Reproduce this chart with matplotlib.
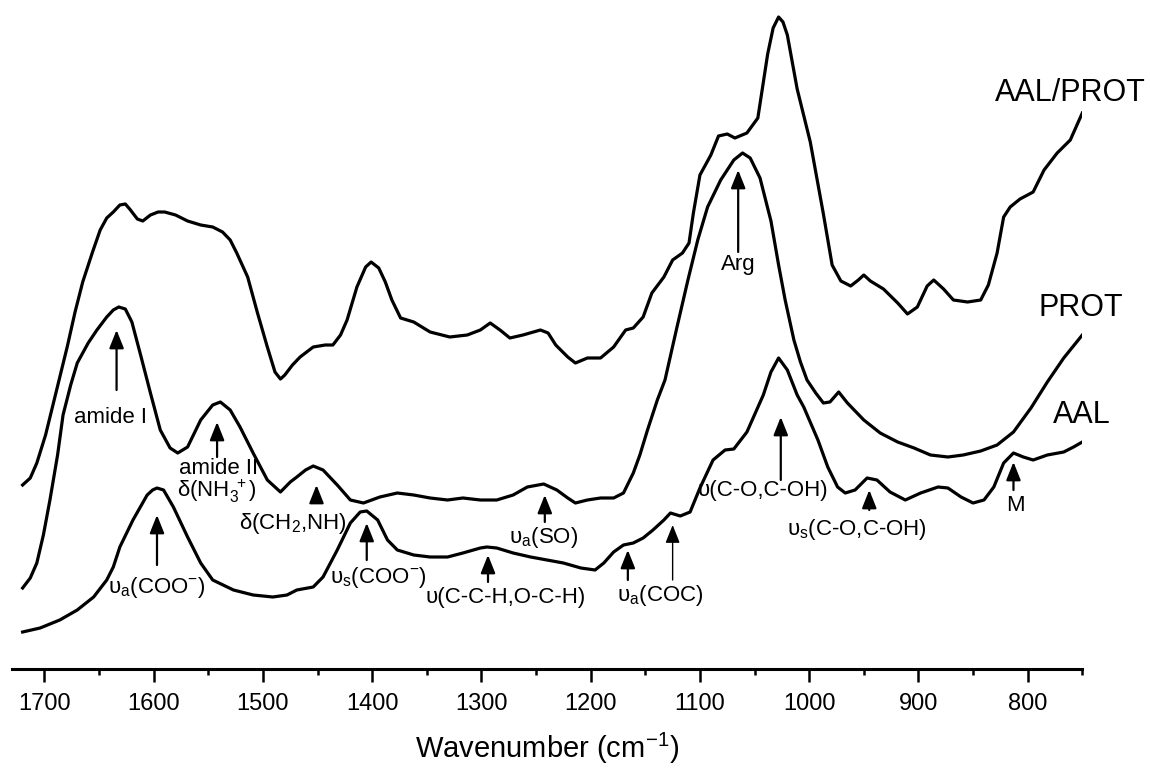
import matplotlib
matplotlib.use("Agg")
import matplotlib.pyplot as plt

plt.rcParams['font.family'] = ['Liberation Sans', 'DejaVu Sans']
plt.rcParams['mathtext.fontset'] = 'custom'
plt.rcParams['mathtext.rm'] = 'Liberation Sans'
plt.rcParams['mathtext.it'] = 'Liberation Sans:italic'
plt.rcParams['mathtext.bf'] = 'Liberation Sans:bold'

# AAL/PROT spectrum (offset, a.u.)
wn_mix = [1720, 1713, 1707, 1699, 1690, 1679, 1672, 1665, 1656, 1649,
          1643, 1637, 1631, 1626, 1622, 1615, 1610, 1603, 1596, 1590,
          1580, 1569, 1557, 1546, 1537, 1530, 1524, 1514, 1505, 1496,
          1489, 1484, 1480, 1473, 1466, 1454, 1443, 1436, 1429, 1423,
          1414, 1406, 1401, 1394, 1388, 1382, 1374, 1362, 1347, 1329,
          1313, 1301, 1292, 1283, 1274, 1262, 1246, 1239, 1232, 1221,
          1214, 1203, 1191, 1179, 1168, 1161, 1152, 1144, 1133, 1125,
          1116, 1110, 1106, 1100, 1090, 1083, 1075, 1068, 1057, 1047,
          1038, 1033, 1028, 1024, 1020, 1011, 999, 987, 979, 971,
          962, 955, 950, 944, 932, 919, 910, 901, 892, 886,
          877, 868, 855, 843, 836, 828, 822, 816, 807, 795,
          785, 773, 761, 750]
abs_mix = [1.84, 1.91, 2.06, 2.34, 2.74, 3.23, 3.57, 3.87, 4.17, 4.39,
           4.51, 4.57, 4.64, 4.65, 4.60, 4.50, 4.48, 4.54, 4.57, 4.57,
           4.54, 4.48, 4.44, 4.42, 4.37, 4.29, 4.16, 3.92, 3.56, 3.22,
           2.97, 2.90, 2.94, 3.04, 3.12, 3.22, 3.24, 3.24, 3.34, 3.49,
           3.82, 4.02, 4.07, 4.01, 3.87, 3.69, 3.51, 3.47, 3.37, 3.32,
           3.34, 3.39, 3.46, 3.39, 3.31, 3.34, 3.39, 3.36, 3.24, 3.12,
           3.06, 3.11, 3.11, 3.22, 3.39, 3.41, 3.52, 3.76, 3.92, 4.09,
           4.16, 4.26, 4.56, 4.94, 5.14, 5.33, 5.35, 5.31, 5.36, 5.51,
           6.15, 6.41, 6.52, 6.47, 6.34, 5.80, 5.27, 4.55, 4.04, 3.88,
           3.83, 3.89, 3.94, 3.88, 3.80, 3.66, 3.55, 3.62, 3.83, 3.89,
           3.80, 3.69, 3.67, 3.69, 3.84, 4.16, 4.52, 4.62, 4.70, 4.77,
           4.99, 5.16, 5.29, 5.56]

# PROT spectrum
wn_prot = [1720, 1713, 1707, 1701, 1695, 1688, 1683, 1676, 1670, 1660,
           1652, 1643, 1637, 1632, 1626, 1620, 1612, 1603, 1594, 1585,
           1578, 1569, 1557, 1546, 1539, 1530, 1521, 1509, 1496, 1484,
           1475, 1469, 1461, 1454, 1445, 1432, 1420, 1408, 1393, 1377,
           1362, 1347, 1331, 1317, 1301, 1286, 1271, 1258, 1243, 1231,
           1221, 1214, 1203, 1191, 1179, 1170, 1161, 1155, 1148, 1139,
           1132, 1121, 1111, 1102, 1093, 1081, 1069, 1061, 1054, 1045,
           1035, 1028, 1022, 1014, 1008, 1002, 994, 987, 981, 973,
           965, 950, 935, 919, 904, 889, 873, 859, 843, 828,
           813, 797, 782, 767, 750]
abs_prot = [0.81, 0.91, 1.06, 1.34, 1.69, 2.14, 2.54, 2.84, 3.06, 3.26,
            3.39, 3.52, 3.59, 3.62, 3.60, 3.47, 3.14, 2.76, 2.39, 2.21,
            2.16, 2.22, 2.49, 2.64, 2.67, 2.59, 2.42, 2.16, 1.89, 1.77,
            1.87, 1.92, 1.99, 2.03, 1.99, 1.84, 1.69, 1.66, 1.72, 1.76,
            1.74, 1.71, 1.69, 1.71, 1.69, 1.69, 1.74, 1.82, 1.85, 1.79,
            1.71, 1.66, 1.69, 1.71, 1.71, 1.76, 1.96, 2.14, 2.39, 2.69,
            2.89, 3.42, 3.89, 4.29, 4.62, 4.89, 5.09, 5.16, 5.11, 4.91,
            4.48, 4.04, 3.69, 3.29, 3.07, 2.89, 2.76, 2.66, 2.67, 2.77,
            2.66, 2.49, 2.36, 2.27, 2.21, 2.14, 2.12, 2.14, 2.18, 2.24,
            2.37, 2.61, 2.87, 3.11, 3.34]

# AAL spectrum
wn_aal = [1720, 1704, 1686, 1670, 1655, 1643, 1637, 1631, 1619, 1606,
          1601, 1597, 1591, 1582, 1569, 1557, 1546, 1527, 1509, 1491,
          1478, 1469, 1454, 1445, 1432, 1420, 1411, 1405, 1395, 1386,
          1377, 1362, 1347, 1331, 1317, 1301, 1295, 1286, 1271, 1255,
          1240, 1225, 1209, 1196, 1188, 1179, 1170, 1161, 1152, 1143,
          1133, 1127, 1118, 1109, 1100, 1088, 1077, 1069, 1057, 1042,
          1035, 1028, 1020, 1011, 1005, 992, 983, 974, 967, 958,
          947, 938, 926, 912, 898, 882, 873, 861, 850, 840,
          831, 822, 813, 804, 795, 782, 767, 758, 750]
abs_aal = [0.37, 0.41, 0.49, 0.59, 0.72, 0.89, 1.02, 1.22, 1.49, 1.74,
           1.79, 1.81, 1.79, 1.62, 1.32, 1.06, 0.89, 0.79, 0.74, 0.72,
           0.74, 0.79, 0.82, 0.92, 1.19, 1.46, 1.57, 1.58, 1.49, 1.29,
           1.19, 1.14, 1.12, 1.12, 1.16, 1.21, 1.22, 1.21, 1.16, 1.12,
           1.09, 1.06, 1.01, 0.99, 1.06, 1.17, 1.24, 1.26, 1.31, 1.39,
           1.49, 1.56, 1.53, 1.57, 1.81, 2.09, 2.19, 2.20, 2.37, 2.74,
           2.97, 3.11, 2.99, 2.74, 2.62, 2.29, 2.02, 1.82, 1.76, 1.79,
           1.91, 1.89, 1.77, 1.69, 1.76, 1.82, 1.81, 1.72, 1.66, 1.69,
           1.82, 2.06, 2.16, 2.12, 2.09, 2.14, 2.17, 2.22, 2.27]

# band assignments: label, arrow wavenumber, arrow tip, arrow tail, text x, text y
bands = [
    ("amide I", 1634, 3.39, 2.79, 1640, 2.52),
    ("amide II", 1542, 2.47, 2.12, 1541, 2.01),
    (r"δ(NH$_3^{\ +}$)", None, None, None, 1542, 1.78),
    (r"δ(CH$_2$,NH)", 1451, 1.84, 1.67, 1473, 1.46),
    (r"υ$_\mathrm{a}$(COO$^{-}$)", 1597, 1.54, 1.04, 1597, 0.82),
    (r"υ$_\mathrm{s}$(COO$^{-}$)", 1405, 1.46, 1.09, 1394, 0.92),
    ("υ(C-C-H,O-C-H)", 1294, 1.14, 0.87, 1278, 0.72),
    (r"υ$_\mathrm{a}$(SO)", 1242, 1.74, 1.47, 1243, 1.32),
    (r"υ$_\mathrm{a}$(COC)", 1166, 1.19, 0.89, 1136, 0.74),
    ("Arg", 1065, 4.99, 4.17, 1065, 4.05),
    ("υ(C-O,C-OH)", 1026, 2.52, 1.89, 1042, 1.79),
    (r"υ$_\mathrm{s}$(C-O,C-OH)", 945, 1.79, 1.59, 956, 1.39),
    ("M", 813, 2.07, 1.79, 811, 1.64),
]

fig = plt.figure(figsize=(11.5, 7.71), dpi=100)
ax = fig.add_axes([11.7 / 1150, 1 - 669 / 771, (1082.3 - 11.7) / 1150, 669 / 771])

for w, a in [(wn_mix, abs_mix), (wn_prot, abs_prot), (wn_aal, abs_aal)]:
    ax.plot(w, a, color='black', lw=2.3, solid_joinstyle='round')

arrow = dict(arrowstyle='-|>,head_length=0.55,head_width=0.22', color='black',
             lw=1.6, shrinkA=0, shrinkB=0, mutation_scale=20)
for label, xa, tip, tail, xt, yt in bands:
    if xa is not None:
        ax.annotate('', xy=(xa, tip), xytext=(xa, tail), arrowprops=arrow)
    ax.text(xt, yt, label, ha='center', va='center', fontsize=16)

# second, thinner COC arrow
ax.annotate('', xy=(1125, 1.44), xytext=(1125, 0.89),
            arrowprops=dict(arrow, lw=1.0))

ax.text(692, 5.76, "AAL/PROT", ha='right', va='center', fontsize=22)
ax.text(713, 3.61, "PROT", ha='right', va='center', fontsize=22)
ax.text(724, 2.54, "AAL", ha='right', va='center', fontsize=22)

for s in ['top', 'left', 'right']:
    ax.spines[s].set_visible(False)
ax.spines['bottom'].set_linewidth(2.2)
ax.set_yticks([])
ax.set_xticks(range(1700, 749, -100))
ax.set_xticks(range(1700, 749, -50), minor=True)
ax.set_xlim(1730, 750)
ax.set_ylim(0, 6.69)
ax.tick_params(axis='x', which='major', direction='out', length=9, width=1.8,
               labelsize=17, pad=8)
ax.tick_params(axis='x', which='minor', direction='out', length=4.5, width=1.8)
ax.set_xlabel(r"Wavenumber (cm$^{-1}$)", fontsize=21, labelpad=12)

fig.savefig("out.png", dpi=100)
